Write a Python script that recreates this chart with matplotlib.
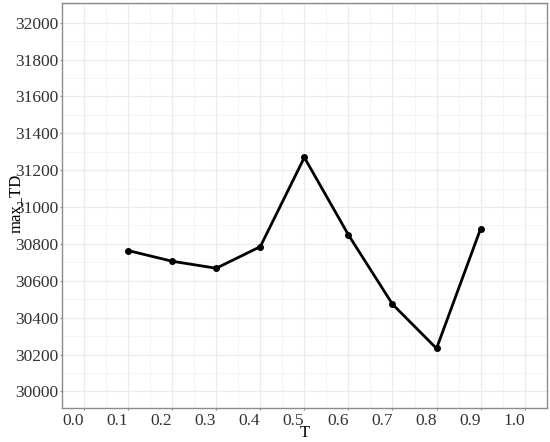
import matplotlib
matplotlib.use("Agg")
import matplotlib.pyplot as plt
from matplotlib.ticker import MultipleLocator

T = [0.1, 0.2, 0.3, 0.4, 0.5, 0.6, 0.7, 0.8, 0.9]
max_TD = [30764, 30706, 30668, 30785, 31269, 30849, 30473, 30233, 30882]
x_ticks = [0.0, 0.1, 0.2, 0.3, 0.4, 0.5, 0.6, 0.7, 0.8, 0.9, 1.0]
y_ticks = [30000, 30200, 30400, 30600, 30800, 31000, 31200, 31400, 31600, 31800, 32000]

plt.rcParams['font.family'] = ['Liberation Serif', 'DejaVu Serif']

fig = plt.figure(figsize=(5.5, 4.42), dpi=100)
W, H = 550, 442
ax_l, ax_r, ax_t, ax_b = 62, 546.7, 3.3, 408
ax = fig.add_axes([ax_l / W, (H - ax_b) / H, (ax_r - ax_l) / W, (ax_b - ax_t) / H])

ax.plot(T, max_TD, color='black', lw=2.0, marker='o', markersize=4, zorder=3)

ax.set_xlim(-0.05, 1.05)
ax.set_ylim(29910, 32105)
ax.set_xticks(x_ticks)
ax.set_xticklabels([f"{v:.1f}" for v in x_ticks], ha='right')
ax.set_yticks(y_ticks)
ax.set_yticklabels([str(v) for v in y_ticks])
ax.xaxis.set_minor_locator(MultipleLocator(0.05))
ax.yaxis.set_minor_locator(MultipleLocator(100))

ax.grid(which='major', color='#EBEBEB', lw=0.9)
ax.grid(which='minor', color='#F2F2F2', lw=0.6)
ax.set_axisbelow(True)

for s in ax.spines.values():
    s.set_color('#8C8C8C')
    s.set_linewidth(1.0)

ax.tick_params(axis='both', which='major', length=1.5, width=0.8, color='#8C8C8C',
               labelsize=12.5, labelcolor='#333333', pad=1)
ax.tick_params(axis='x', which='major', pad=2)
ax.tick_params(axis='both', which='minor', length=0)

ax.set_xlabel('T', fontsize=12, va='center')
ax.xaxis.set_label_coords((305 - ax_l) / (ax_r - ax_l), (ax_b - 433) / (ax_b - ax_t))
ax.set_ylabel('max_TD', fontsize=12, va='center')
ax.yaxis.set_label_coords((16 - ax_l) / (ax_r - ax_l), (ax_b - 203) / (ax_b - ax_t))

fig.savefig('out.png', dpi=100)
